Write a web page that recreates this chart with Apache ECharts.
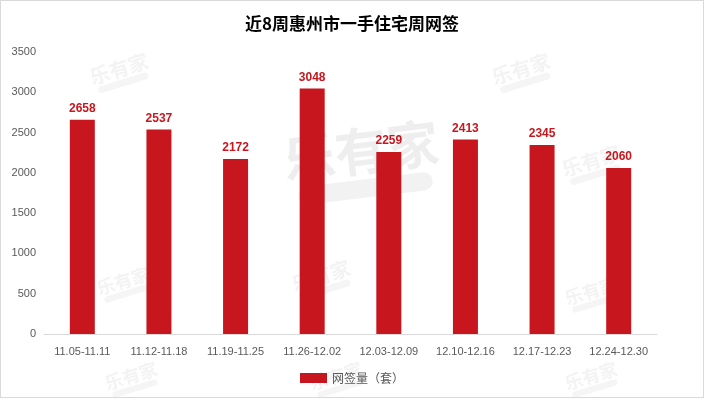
<!DOCTYPE html>
<html><head><meta charset="utf-8">
<script src="https://cdn.jsdelivr.net/npm/echarts@6/dist/echarts.min.js"></script>
<style>html,body{margin:0;padding:0;background:#fff}#c{width:704px;height:398px;box-sizing:border-box;border:1px solid #d9d9d9}</style>
</head><body><div id="c"></div>
<script>
const categories = ['11.05-11.11','11.12-11.18','11.19-11.25','11.26-12.02','12.03-12.09','12.10-12.16','12.17-12.23','12.24-12.30'];
const values = [2658, 2537, 2172, 3048, 2259, 2413, 2345, 2060];
const yTicks = {min: 0, max: 3500, interval: 500};
const seriesName = '网签量（套）';
const titleText = '近8周惠州市一手住宅周网签';

const wm = (x, y, size, rot, a) => ({
  type: 'group', x: x, y: y, rotation: rot, silent: true, z: -1,
  children: [
    {type: 'text', style: {text: '乐有家', x: 0, y: 0, fill: 'rgba(200,200,200,' + a + ')', font: 'bold ' + size + 'px "Noto Sans CJK SC"', align: 'center', verticalAlign: 'middle'}},
    {type: 'rect', shape: {x: -size * 1.3, y: size * 0.55, width: size * 2.6, height: size * 0.35, r: size * 0.17}, style: {fill: 'rgba(200,200,200,' + (a * 0.8) + ')'}}
  ]
});

const chart = echarts.init(document.getElementById('c'), null, {renderer: 'canvas'});
chart.setOption({
  animation: false,
  title: {text: titleText, left: 'center', top: 9, textStyle: {fontSize: 17, fontWeight: 'bold', color: '#000', fontFamily: '"Noto Sans CJK SC"'}},
  grid: {left: 43, right: 46, top: 51, bottom: 63, containLabel: false},
  legend: {bottom: 8, left: 'center', itemWidth: 27, itemHeight: 10, itemGap: 6, icon: 'rect',
    textStyle: {fontSize: 12, color: '#595959', fontFamily: '"Noto Sans CJK SC"'}, data: [seriesName]},
  xAxis: {type: 'category', data: categories,
    axisLine: {lineStyle: {color: '#d9d9d9'}}, axisTick: {show: false},
    axisLabel: {color: '#595959', fontSize: 11, margin: 12, fontFamily: 'Liberation Sans'}},
  yAxis: {type: 'value', min: yTicks.min, max: yTicks.max, interval: yTicks.interval,
    axisLine: {show: false}, axisTick: {show: false},
    splitLine: {show: false},
    axisLabel: {color: '#595959', fontSize: 11, margin: 8, fontFamily: 'Liberation Sans', formatter: v => String(v)}},
  graphic: [
    wm(118, 68, 20, 0.3, 0.22), wm(520, 68, 20, 0.3, 0.22), wm(360, 150, 52, 0.12, 0.3),
    wm(590, 160, 20, 0.3, 0.22), wm(320, 275, 20, 0.3, 0.22), wm(122, 280, 18, 0.3, 0.22),
    wm(590, 290, 18, 0.3, 0.22), wm(130, 375, 18, 0.3, 0.22), wm(335, 375, 18, 0.3, 0.22), wm(590, 375, 18, 0.3, 0.22)
  ],
  series: [{
    name: seriesName, type: 'bar', data: values, barWidth: 25,
    itemStyle: {color: '#C8161E'},
    label: {show: true, position: 'top', distance: 5, color: '#C8161E', fontWeight: 'bold', fontSize: 12, fontFamily: 'Liberation Sans'}
  }]
});
</script></body></html>
